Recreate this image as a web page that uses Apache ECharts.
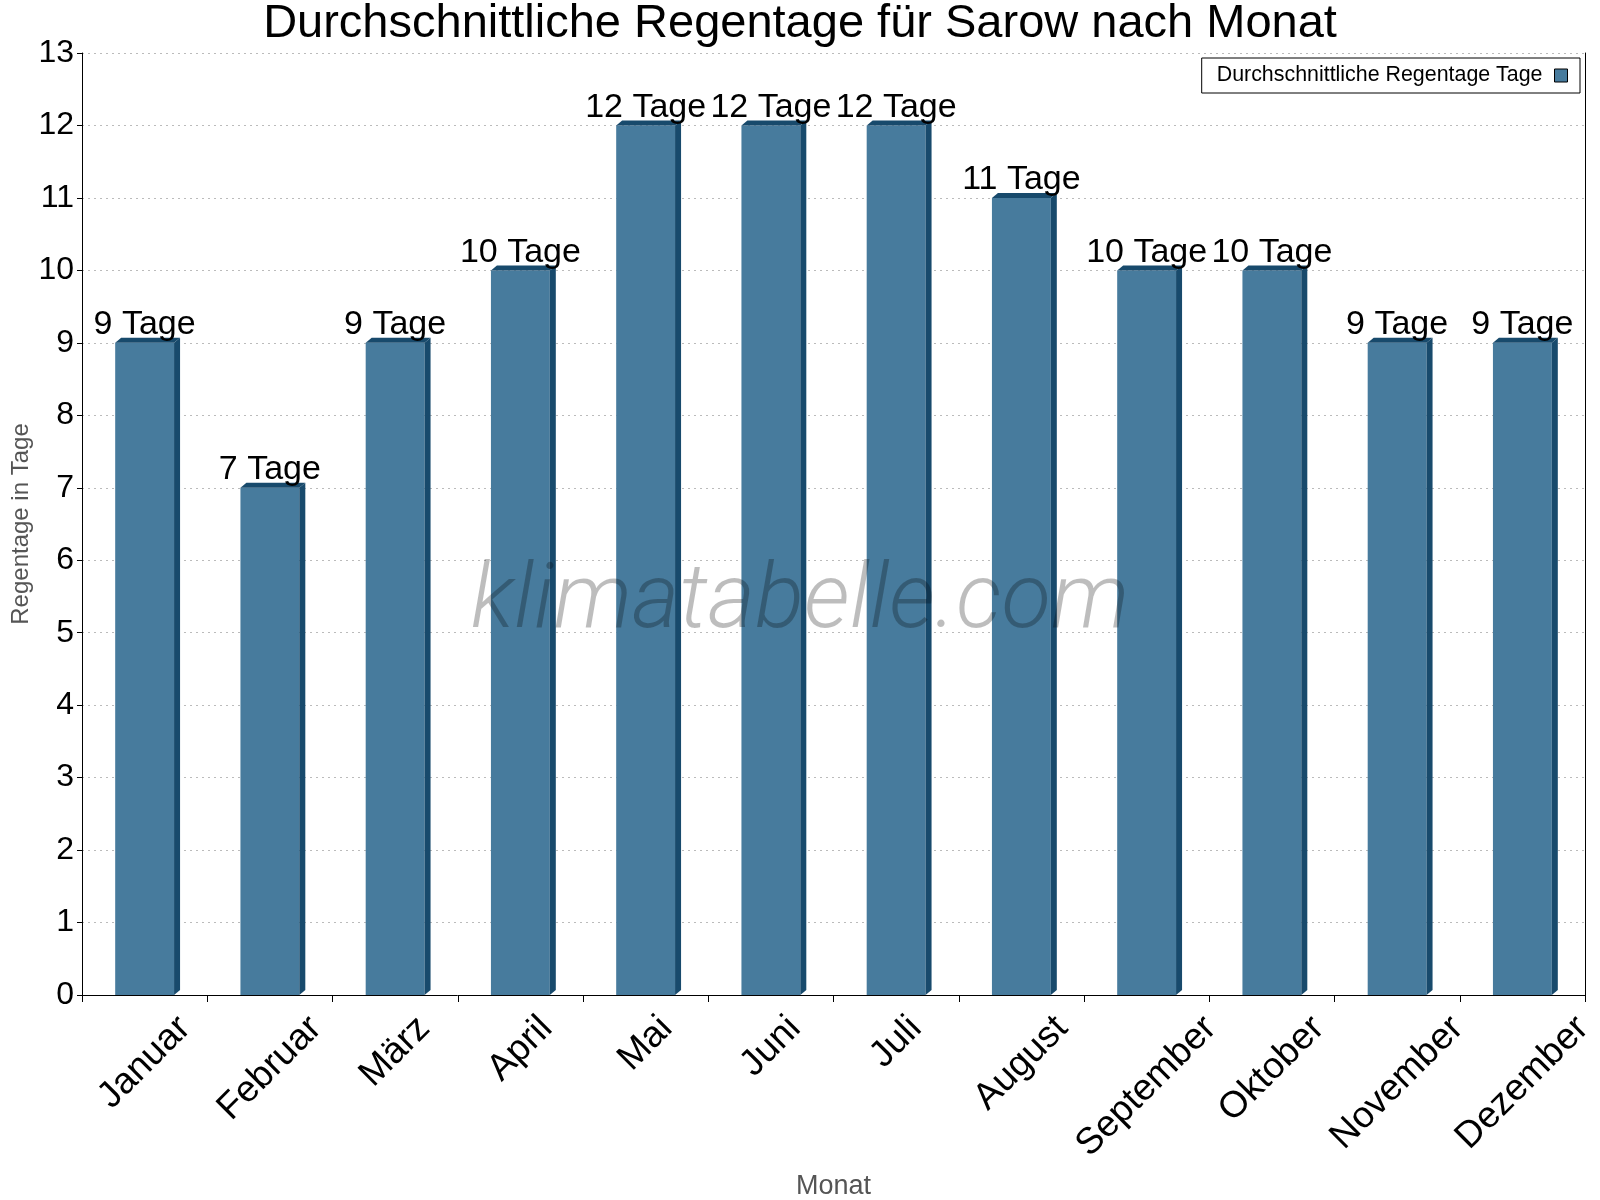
<!DOCTYPE html>
<html>
<head>
<meta charset="utf-8">
<script src="https://cdn.jsdelivr.net/npm/echarts@6/dist/echarts.min.js"></script>
<style>
  html, body { margin: 0; padding: 0; background: #fff; }
  #chart { width: 1600px; height: 1200px; }
</style>
</head>
<body>
<div id="chart"></div>
<script>
const months = ['Januar', 'Februar', 'März', 'April', 'Mai', 'Juni', 'Juli', 'August', 'September', 'Oktober', 'November', 'Dezember'];
const rainDays = [9, 7, 9, 10, 12, 12, 12, 11, 10, 10, 9, 9];
const seriesName = 'Durchschnittliche Regentage Tage';
const unit = 'Tage';

const FONT = '"Liberation Sans", Arial, sans-serif';
const front = '#477b9d';
const dark = '#184a6c';
const monthFont = '37px ' + FONT;

// measure label widths so the rotated month names can be centred under their bar
const measure = document.createElement('canvas').getContext('2d');
measure.font = monthFont;

const chart = echarts.init(document.getElementById('chart'));

function renderBar(params, api) {
  const i = api.value(0);
  const v = api.value(1);
  const top = api.coord([i, v]);
  const base = api.coord([i, 0]);
  const bw = api.size([1, 0])[0] * 0.47;
  const x0 = top[0] - bw / 2;
  const x1 = top[0] + bw / 2;
  const dx = 6, dy = 5;
  const name = months[i];
  const w = measure.measureText(name).width;
  return {
    type: 'group',
    children: [
      {
        type: 'rect',
        shape: { x: x0, y: top[1], width: bw, height: base[1] - top[1] },
        style: { fill: front }
      },
      {
        type: 'polygon',
        shape: { points: [[x1, top[1]], [x1 + dx, top[1] - dy], [x1 + dx, base[1] - dy], [x1, base[1]]] },
        style: { fill: dark }
      },
      {
        type: 'polygon',
        shape: { points: [[x0, top[1]], [x0 + dx, top[1] - dy], [x1 + dx, top[1] - dy], [x1, top[1]]] },
        style: { fill: dark }
      },
      {
        type: 'text',
        style: {
          text: v + ' ' + unit,
          x: top[0],
          y: top[1] - 1,
          align: 'center',
          verticalAlign: 'bottom',
          font: '34px ' + FONT,
          fill: '#000'
        }
      },
      {
        type: 'text',
        x: top[0],
        y: base[1] + 17 + (w + 30) * 0.3536,
        rotation: Math.PI / 4,
        style: {
          text: name,
          x: 0,
          y: 0,
          align: 'center',
          verticalAlign: 'middle',
          font: monthFont,
          fill: '#000'
        }
      }
    ]
  };
}

const option = {
  animation: false,
  backgroundColor: '#fff',
  title: {
    text: 'Durchschnittliche Regentage für Sarow nach Monat',
    left: 'center',
    top: -4,
    textStyle: { fontFamily: FONT, fontSize: 47, fontWeight: 'normal', color: '#000' }
  },
  legend: {
    data: [seriesName],
    right: 20,
    top: 58,
    align: 'right',
    icon: 'rect',
    itemWidth: 13,
    itemHeight: 13,
    borderColor: '#000',
    borderWidth: 1,
    borderRadius: 0,
    padding: [7, 12, 7, 15],
    itemStyle: { borderColor: '#000', borderWidth: 1 },
    textStyle: { fontFamily: FONT, fontSize: 21.4, color: '#000', padding: [0, 7, 0, 0] }
  },
  grid: { left: 82, right: 15, top: 53, bottom: 205, outerBoundsMode: 'none' },
  xAxis: {
    type: 'category',
    data: months,
    boundaryGap: true,
    name: 'Monat',
    nameLocation: 'middle',
    nameGap: 178,
    nameMoveOverlap: false,
    nameTextStyle: { fontFamily: FONT, fontSize: 27, color: '#555' },
    axisLine: { lineStyle: { color: '#000', width: 1 } },
    axisTick: { show: true, length: 7, lineStyle: { color: '#000' } },
    axisLabel: { show: false },
    splitLine: { show: false }
  },
  yAxis: [
    {
      type: 'value',
      min: 0,
      max: 13,
      interval: 1,
      name: 'Regentage in Tage',
      nameLocation: 'middle',
      nameGap: 49,
      nameMoveOverlap: false,
      nameTextStyle: { fontFamily: FONT, fontSize: 24, color: '#555' },
      axisLine: { show: true, lineStyle: { color: '#000', width: 1 } },
      axisTick: { show: true, length: 5, lineStyle: { color: '#000' } },
      axisLabel: { fontFamily: FONT, fontSize: 32, color: '#000', margin: 8 },
      splitLine: { show: true, lineStyle: { color: '#bbb', type: [2, 4], width: 1 } }
    },
    {
      type: 'value',
      min: 0,
      max: 13,
      interval: 1,
      position: 'right',
      axisLine: { show: true, lineStyle: { color: '#000', width: 1 } },
      axisTick: { show: false },
      axisLabel: { show: false },
      splitLine: { show: false }
    }
  ],
  graphic: [
    {
      type: 'text',
      left: 'center',
      top: 559,
      z: 100,
      silent: true,
      style: {
        text: 'klimatabelle.com',
        font: 'italic 300 91px Roboto, "Open Sans", sans-serif',
        fill: 'rgba(0,0,0,0.26)'
      }
    }
  ],
  series: [
    {
      name: seriesName,
      type: 'custom',
      renderItem: renderBar,
      itemStyle: { color: front, borderColor: '#000' },
      encode: { x: 0, y: 1 },
      data: rainDays.map((d, i) => [i, d]),
      clip: false,
      z: 2
    }
  ]
};

chart.setOption(option);
</script>
</body>
</html>
